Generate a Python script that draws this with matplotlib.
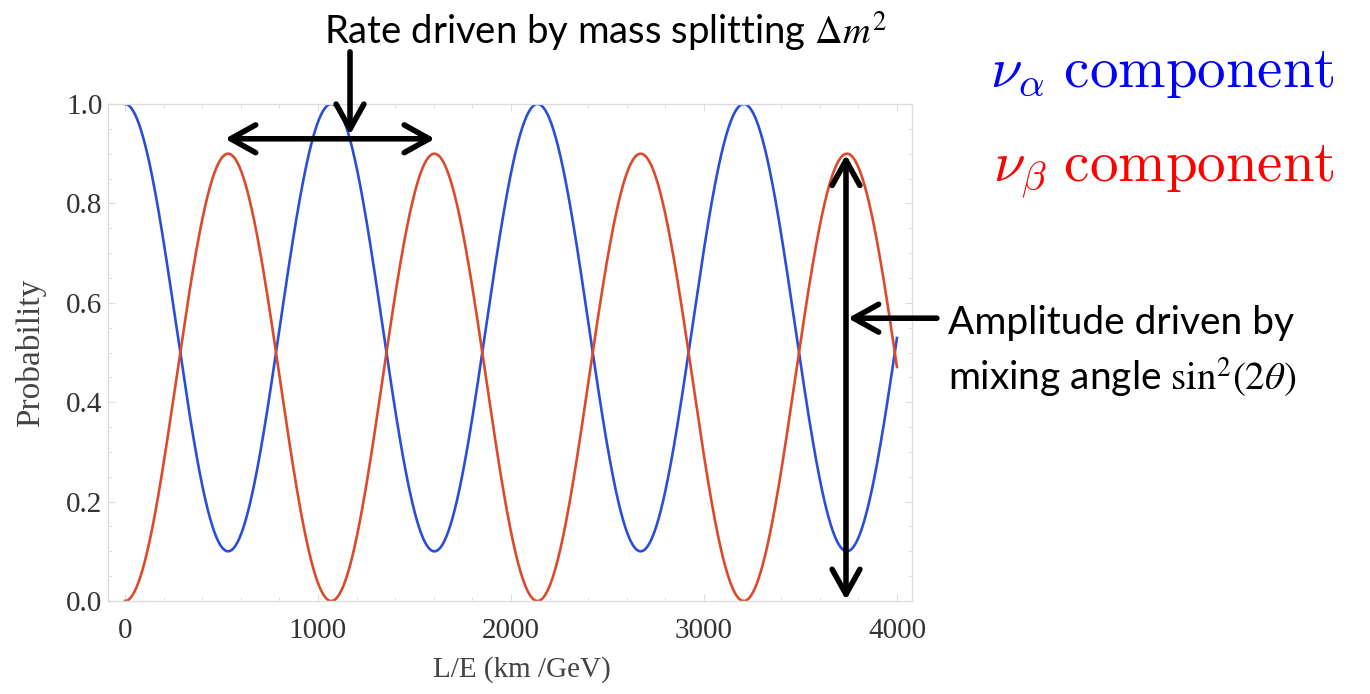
import numpy as np
import matplotlib
matplotlib.use("Agg")
import matplotlib.pyplot as plt
from matplotlib.ticker import MultipleLocator

# two-flavour oscillation parameters
sin2_2theta = 0.9          # amplitude: nu_beta peaks at 0.9
dm2 = 2.32e-3              # eV^2, gives an oscillation length of ~1070 km/GeV
LE_max = 4000              # km/GeV, curves end here

LE = np.linspace(0, LE_max, 2000)
p_beta = sin2_2theta * np.sin(1.267 * dm2 * LE) ** 2
p_alpha = 1 - p_beta

x_ticks = [0, 1000, 2000, 3000, 4000]
y_ticks = [0.0, 0.2, 0.4, 0.6, 0.8, 1.0]
y_labels = ["0.0", "0.2", "0.4", "0.6", "0.8", "1.0"]

blue = "#2a4fd6"
red = "#dc4a2c"
frame = "#dcdcdc"

fig = plt.figure(figsize=(13.7, 6.94), dpi=100)
ax = fig.add_axes([108 / 1370, 93 / 694, 804 / 1370, 497 / 694])

ax.plot(LE, p_alpha, color=blue, lw=1.9)
ax.plot(LE, p_beta, color=red, lw=1.9)

ax.set_xlim(-88, 4078)
ax.set_ylim(0, 1)
ax.set_xticks(x_ticks)
ax.set_yticks(y_ticks)
ax.set_yticklabels(y_labels)
ax.xaxis.set_minor_locator(MultipleLocator(200))
ax.yaxis.set_minor_locator(MultipleLocator(0.05))
ax.tick_params(which="both", direction="in", top=True, right=True, color=frame)
ax.tick_params(which="major", length=5)
ax.tick_params(which="minor", length=3)
ax.tick_params(axis="x", pad=12)
ax.tick_params(axis="y", pad=4)
for lab in ax.get_xticklabels() + ax.get_yticklabels():
    lab.set_fontfamily("Liberation Serif")
    lab.set_fontsize(21)
    lab.set_color("#333333")
for s in ax.spines.values():
    s.set_color(frame)
    s.set_linewidth(1)

ax.set_xlabel("L/E (km /GeV)", family="Liberation Serif", fontsize=21,
              color="#444444")
ax.xaxis.set_label_coords((522 - 108) / 804, -55 / 497)
ax.set_ylabel("Probability", family="Liberation Serif", fontsize=24,
              color="#444444")
ax.yaxis.set_label_coords(-62 / 804, 0.5)

# arrows
arrow = dict(color="black", lw=4, shrinkA=0, shrinkB=0, mutation_scale=20,
             capstyle="round", joinstyle="round")
ax.annotate("", xy=(518, 0.93), xytext=(1606, 0.93), annotation_clip=False,
            arrowprops=dict(arrowstyle="<->,head_length=0.9,head_width=0.5", **arrow))
ax.annotate("", xy=(1166, 0.938), xytext=(1166, 1.105), annotation_clip=False,
            arrowprops=dict(arrowstyle="->,head_length=0.9,head_width=0.5", **arrow))
ax.annotate("", xy=(3736, 0.898), xytext=(3736, 0.002), annotation_clip=False,
            arrowprops=dict(arrowstyle="<->,head_length=0.9,head_width=0.5", **arrow))
ax.annotate("", xy=(3746, 0.569), xytext=(4207, 0.569), annotation_clip=False,
            arrowprops=dict(arrowstyle="->,head_length=0.9,head_width=0.5", **arrow))

# text
fig.text(605 / 1370, 1 - 44 / 694, r"Rate driven by mass splitting $\Delta m^2$",
         family="Lato", fontsize=27.5, math_fontfamily="stix",
         ha="center", va="baseline")
fig.text(1335 / 1370, 1 - 87 / 694, r"$\nu_\alpha\ \mathrm{component}$",
         fontsize=41, math_fontfamily="cm", color="#0000ff",
         ha="right", va="baseline")
fig.text(1335 / 1370, 1 - 182 / 694, r"$\nu_\beta\ \mathrm{component}$",
         fontsize=41, math_fontfamily="cm", color="#ff0000",
         ha="right", va="baseline")
fig.text(948 / 1370, 1 - 334 / 694, "Amplitude driven by",
         family="Lato", fontsize=28, ha="left", va="baseline")
fig.text(948 / 1370, 1 - 390 / 694, r"mixing angle $\mathrm{sin}^2(2\theta)$",
         family="Lato", fontsize=28, math_fontfamily="stix",
         ha="left", va="baseline")

fig.savefig("out.png", dpi=100)
